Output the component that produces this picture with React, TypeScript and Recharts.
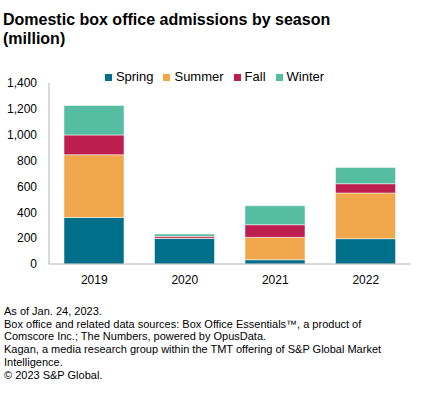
import { BarChart, Bar, XAxis, YAxis, Legend } from 'recharts';

const years = ['2019', '2020', '2021', '2022'];
const seasons = ['Spring', 'Summer', 'Fall', 'Winter'];
const spring = [360, 197, 33, 196];
const summer = [485, 3, 173, 353];
const fall = [153, 14, 98, 72];
const winter = [228, 18, 147, 126];
const yTicks = [0, 200, 400, 600, 800, 1000, 1200, 1400];

const data = years.map((year, i) => ({
  year,
  Spring: spring[i],
  Summer: summer[i],
  Fall: fall[i],
  Winter: winter[i],
}));

const font = '"Liberation Sans", Arial, sans-serif';
const axisGray = '#b3b3b3';

const App = () => {
  return (
    <div style={{ position: 'relative', width: 425, height: 393, fontFamily: font, color: '#000', background: '#fff' }}>
      <style>{'body{margin:0}'}</style>
      <div style={{ position: 'absolute', top: 10, left: 3, fontSize: 16, fontWeight: 700, lineHeight: '19px' }}>
        Domestic box office admissions by season
        <br />
        (million)
      </div>
      <div style={{ position: 'absolute', top: 60, left: 0 }}>
        <BarChart width={425} height={240} data={data} margin={{ top: 23, right: 14, left: 0, bottom: 5 }}>
          <XAxis
            dataKey="year"
            axisLine={{ stroke: axisGray }}
            tickLine={false}
            tickSize={0}
            tickMargin={11}
            height={31}
            tick={{ fill: '#000', fontSize: 12 }}
          />
          <YAxis
            domain={[0, 1400]}
            ticks={yTicks}
            width={49}
            axisLine={{ stroke: axisGray }}
            tickLine={false}
            tickSize={0}
            tickMargin={12}
            tickFormatter={(v) => v.toLocaleString('en-US')}
            tick={{ fill: '#000', fontSize: 12 }}
          />
          <Legend
            verticalAlign="middle"
            align="center"
            iconType="square"
            iconSize={7}
            itemSorter={(item) => seasons.indexOf(String(item.value))}
            wrapperStyle={{ top: 9, left: 14, fontSize: 13 }}
            formatter={(value) => <span style={{ color: '#000' }}>{value}</span>}
          />
          <Bar dataKey="Spring" stackId="a" fill="#006f8a" stroke="#fff" strokeWidth={0.5} barSize={60} isAnimationActive={false} />
          <Bar dataKey="Summer" stackId="a" fill="#f1a74b" stroke="#fff" strokeWidth={0.5} barSize={60} isAnimationActive={false} />
          <Bar dataKey="Fall" stackId="a" fill="#bc1f4f" stroke="#fff" strokeWidth={0.5} barSize={60} isAnimationActive={false} />
          <Bar dataKey="Winter" stackId="a" fill="#55bda2" stroke="#fff" strokeWidth={0.5} barSize={60} isAnimationActive={false} />
        </BarChart>
      </div>
      <div style={{ position: 'absolute', top: 305, left: 4, fontSize: 11, lineHeight: '12.7px' }}>
        As of Jan. 24, 2023.
        <br />
        Box office and related data sources: Box Office Essentials™, a product of
        <br />
        Comscore Inc.; The Numbers, powered by OpusData.
        <br />
        Kagan, a media research group within the TMT offering of S&amp;P Global Market
        <br />
        Intelligence.
        <br />© 2023 S&amp;P Global.
      </div>
    </div>
  );
};

export default App;
